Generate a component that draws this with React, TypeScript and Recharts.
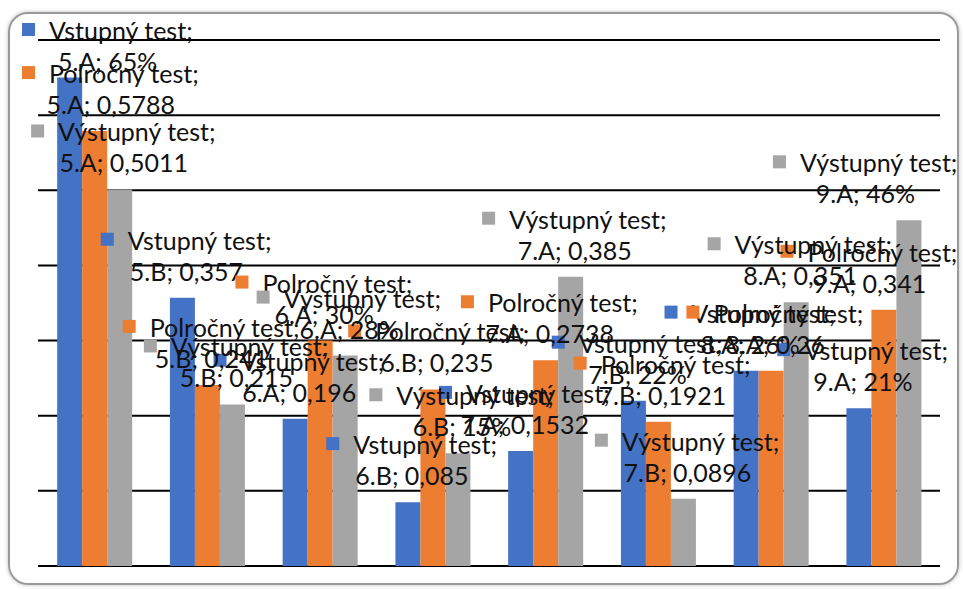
import { Bar, BarChart, CartesianGrid, LabelList, XAxis, YAxis } from "recharts";

const categories = ["5.A", "5.B", "6.A", "6.B", "7.A", "7.B", "8.A", "9.A"];
const vstupnyValues = [0.65, 0.357, 0.196, 0.085, 0.1532, 0.22, 0.26, 0.21];
const polrocnyValues = [0.5788, 0.241, 0.3, 0.235, 0.2738, 0.1921, 0.26, 0.341];
const vystupnyValues = [0.5011, 0.215, 0.28, 0.15, 0.385, 0.0896, 0.351, 0.46];

// label texts as they appear on the chart (mixed % and decimal comma)
const vstupnyLabels = ["65%", "0,357", "0,196", "0,085", "0,1532", "22%", "26%", "21%"];
const polrocnyLabels = ["0,5788", "0,241", "30%", "0,235", "0,2738", "0,1921", "0,26", "0,341"];
const vystupnyLabels = ["0,5011", "0,215", "28%", "15%", "0,385", "0,0896", "0,351", "46%"];

const yTicks = [0, 0.1, 0.2, 0.3, 0.4, 0.5, 0.6, 0.7];

const data = categories.map((category, i) => ({
  category,
  vstupny: vstupnyValues[i],
  polrocny: polrocnyValues[i],
  vystupny: vystupnyValues[i],
}));

const FONT_FAMILY = "Lato";
const FONT_SIZE = 25;
const KEY_SIZE = 13;
const KEY_GAP = 14;
const MIN_LEFT = 22;
const MAX_RIGHT = 958;
const MIN_Y = 30;

let measureCtx: CanvasRenderingContext2D | null = null;
function textWidth(s: string) {
  if (!measureCtx) measureCtx = document.createElement("canvas").getContext("2d");
  if (!measureCtx) return s.length * FONT_SIZE * 0.5;
  measureCtx.font = `${FONT_SIZE}px ${FONT_FAMILY}`;
  return measureCtx.measureText(s).width;
}

function makeLabel(series: string, color: string, texts: string[]) {
  return (props: any) => {
    const box = props.viewBox ?? props;
    const { x, y, width } = box;
    const index = props.index;
    if (x == null || index == null) return null;
    const line1 = `${series};`;
    const line2 = `${categories[index]}; ${texts[index]}`;
    const w1 = KEY_SIZE + KEY_GAP + textWidth(line1);
    const w2 = textWidth(line2);
    const w = Math.max(w1, w2);
    let left = x + width / 2 + 4 - w / 2;
    if (left < MIN_LEFT) left = MIN_LEFT;
    if (left + w > MAX_RIGHT) left = MAX_RIGHT - w;
    const cx = left + w / 2;
    const y1 = Math.max(MIN_Y, y - 58);
    const l1 = cx - w1 / 2;
    return (
      <g>
        <rect x={l1} y={y1 - 7} width={KEY_SIZE} height={KEY_SIZE} fill={color} />
        <text x={l1 + KEY_SIZE + KEY_GAP} y={y1} dominantBaseline="central" fontSize={FONT_SIZE} fontFamily={FONT_FAMILY} fill="#111">
          {line1}
        </text>
        <text x={cx} y={y1 + 31} textAnchor="middle" dominantBaseline="central" fontSize={FONT_SIZE} fontFamily={FONT_FAMILY} fill="#111">
          {line2}
        </text>
      </g>
    );
  };
}

export default function App() {
  return (
    <div style={{ position: "absolute", left: 0, top: 0, width: 963, height: 590, background: "#fff" }}>
      <div
        style={{
          position: "absolute",
          left: 8,
          top: 12,
          width: 947,
          height: 569,
          border: "2px solid #9a9a9a",
          borderRadius: 20,
          boxShadow: "0 0 4px rgba(0,0,0,0.25)",
        }}
      />
      <BarChart
        width={963}
        height={590}
        data={data}
        margin={{ top: 40, right: 23, bottom: 24, left: 38 }}
        barCategoryGap="17%"
        barGap={0}
        style={{ position: "absolute", left: 0, top: 0 }}
      >
        <CartesianGrid vertical={false} stroke="#000" strokeWidth={2} />
        <XAxis dataKey="category" hide />
        <YAxis domain={[0, 0.7]} ticks={yTicks} hide />
        <Bar dataKey="vstupny" fill="#4472C4" isAnimationActive={false}>
          <LabelList content={makeLabel("Vstupný test", "#4472C4", vstupnyLabels)} />
        </Bar>
        <Bar dataKey="polrocny" fill="#ED7D31" isAnimationActive={false}>
          <LabelList content={makeLabel("Polročný test", "#ED7D31", polrocnyLabels)} />
        </Bar>
        <Bar dataKey="vystupny" fill="#A5A5A5" isAnimationActive={false}>
          <LabelList content={makeLabel("Výstupný test", "#A5A5A5", vystupnyLabels)} />
        </Bar>
      </BarChart>
    </div>
  );
}
